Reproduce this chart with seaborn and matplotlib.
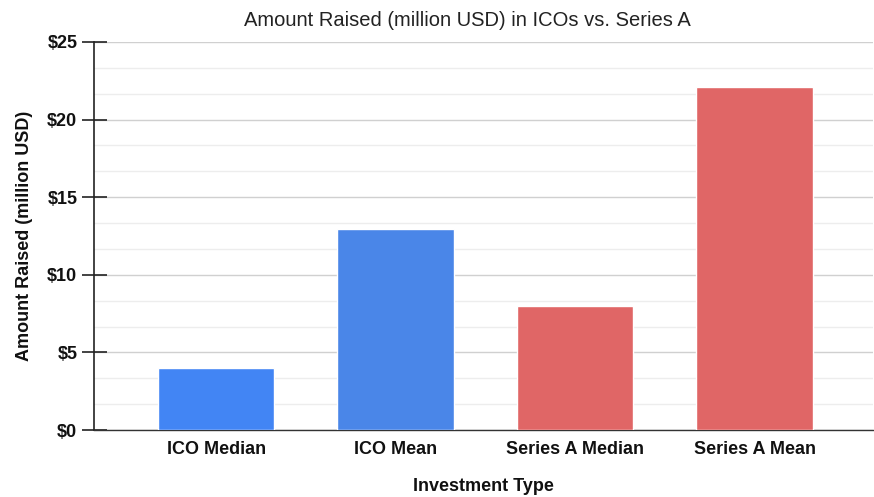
import matplotlib
matplotlib.use("Agg")
import matplotlib.pyplot as plt
import seaborn as sns
import pandas as pd
from matplotlib.ticker import MultipleLocator, FuncFormatter

categories = ["ICO Median", "ICO Mean", "Series A Median", "Series A Mean"]
values = [4.0, 12.95, 8.0, 22.1]
colors = ["#4285f4", "#4a86e8", "#e06666", "#e06666"]

df = pd.DataFrame({"Investment Type": categories, "Amount": values})

sns.set_theme(style="white")
plt.rcParams["font.family"] = ["Liberation Sans", "DejaVu Sans"]

fig = plt.figure(figsize=(8.74, 4.97), dpi=100)
ax = fig.add_axes([0.1076, 0.1348, 0.8914, 0.7807])

sns.barplot(data=df, x="Investment Type", y="Amount", hue="Investment Type",
            palette=colors, legend=False, width=0.65, ax=ax, saturation=1, zorder=3)

ax.set_ylim(0, 25)
ax.set_xlim(-0.68, 3.66)
ax.yaxis.set_major_locator(MultipleLocator(5))
ax.yaxis.set_minor_locator(MultipleLocator(5 / 3))
ax.yaxis.set_major_formatter(FuncFormatter(lambda v, p: f"${v:.0f}"))
ax.grid(axis="y", which="major", color="#d0d0d0", linewidth=1.0, zorder=0)
ax.grid(axis="y", which="minor", color="#ededed", linewidth=1.0, zorder=0)
ax.grid(axis="x", visible=False)

for s in ["top", "right"]:
    ax.spines[s].set_visible(False)
ax.spines["left"].set_color("#222222")
ax.spines["left"].set_linewidth(1.2)
ax.spines["bottom"].set_color("#333333")
ax.spines["bottom"].set_linewidth(1.0)

ax.tick_params(axis="y", which="major", direction="inout", length=18, width=1.2,
               color="#222222", left=True, labelsize=13, pad=3)
ax.tick_params(axis="y", which="minor", left=False)
ax.tick_params(axis="x", bottom=False, labelsize=13, pad=2)
for lab in ax.get_yticklabels() + ax.get_xticklabels():
    lab.set_fontweight("bold")
    lab.set_color("#111111")

ax.set_xlabel("Investment Type", fontsize=13, fontweight="bold", labelpad=14, color="#111111")
ax.set_ylabel("Amount Raised (million USD)", fontsize=13, fontweight="bold", labelpad=10, color="#111111")
fig.suptitle("Amount Raised (million USD) in ICOs vs. Series A", fontsize=14.5, y=0.978, x=0.535, color="#222222")

fig.savefig("out.png", dpi=100, facecolor="white")
